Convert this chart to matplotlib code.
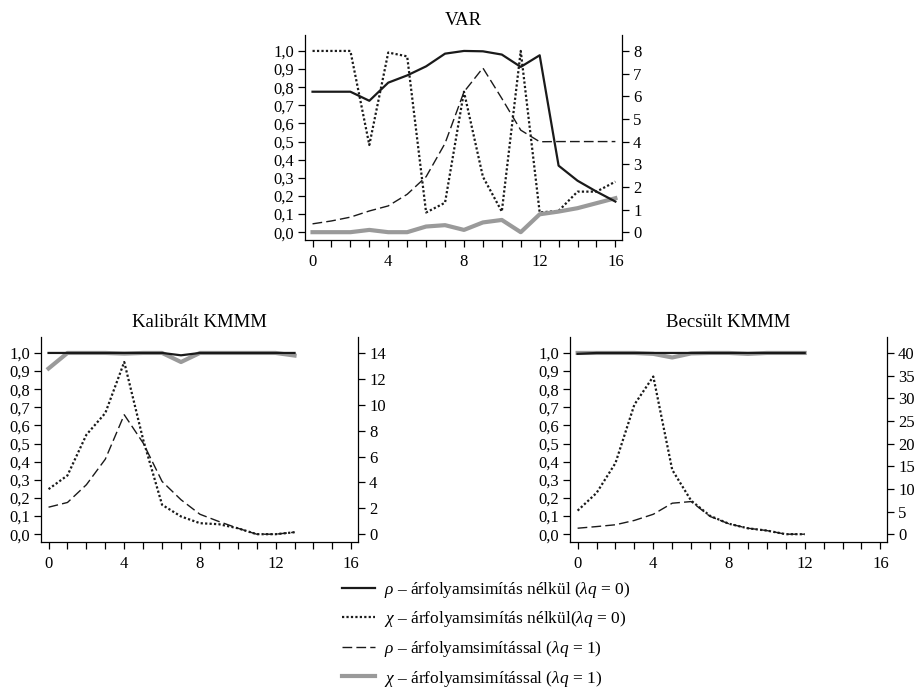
import matplotlib
matplotlib.use('Agg')
import matplotlib.pyplot as plt
from matplotlib.lines import Line2D
from matplotlib.ticker import FuncFormatter

plt.rcParams['font.family'] = ['Liberation Serif', 'DejaVu Serif']
plt.rcParams['mathtext.fontset'] = 'custom'
plt.rcParams['mathtext.rm'] = 'Liberation Serif'
plt.rcParams['mathtext.it'] = 'Liberation Serif:italic'

# VAR panel, x = 0..16
var_x = list(range(17))
var_rho = [0.775, 0.775, 0.775, 0.725, 0.825, 0.865, 0.915, 0.985, 1.0, 0.998,
           0.98, 0.912, 0.976, 0.367, 0.284, 0.224, 0.169]
var_chi = [8.0, 8.0, 8.0, 3.85, 7.93, 7.76, 0.87, 1.3, 6.2, 2.45,
           0.91, 8.0, 0.87, 0.94, 1.79, 1.79, 2.23]
var_rho_s = [0.046, 0.062, 0.083, 0.117, 0.145, 0.209, 0.306, 0.49, 0.774, 0.906,
             0.738, 0.563, 0.499, 0.5, 0.5, 0.5, 0.5]
var_chi_s = [0.0, 0.0, 0.0, 0.1, 0.0, 0.0, 0.25, 0.31, 0.1, 0.43,
             0.54, 0.0, 0.79, 0.91, 1.06, 1.28, 1.5]

# Kalibrált KMMM, x = 0..13
kal_x = list(range(14))
kal_rho = [1.0, 1.0, 1.0, 1.0, 1.0, 1.0, 1.0, 0.987, 1.0, 1.0, 1.0, 1.0, 1.0, 1.0]
kal_chi = [3.48, 4.54, 7.68, 9.36, 13.3, 7.3, 2.27, 1.37, 0.85, 0.77, 0.46, 0.0, 0.0, 0.15]
kal_rho_s = [0.149, 0.175, 0.273, 0.414, 0.659, 0.503, 0.291, 0.19, 0.11, 0.07,
             0.033, 0.0, 0.0, 0.011]
kal_chi_s = [12.8, 14.0, 14.0, 14.0, 13.95, 14.0, 14.0, 13.3, 14.0, 14.0, 14.0, 14.0, 14.0, 13.8]

# Becsült KMMM, x = 0..12
bec_x = list(range(13))
bec_rho = [0.995, 1.0, 1.0, 1.0, 1.0, 1.0, 1.0, 1.0, 1.0, 1.0, 1.0, 1.0, 1.0]
bec_chi = [5.2, 9.1, 15.7, 28.6, 34.8, 14.2, 7.4, 4.05, 2.3, 1.3, 0.8, 0.0, 0.0]
bec_rho_s = [0.033, 0.042, 0.052, 0.076, 0.11, 0.171, 0.18, 0.098, 0.057, 0.033,
             0.02, 0.0, 0.0]
bec_chi_s = [40.0, 40.0, 40.0, 40.0, 39.8, 39.0, 39.9, 40.0, 40.0, 39.8, 40.0, 40.0, 40.0]

labels = [r'$\rho$ – árfolyamsimítás nélkül ($\lambda q$ = 0)',
          r'$\chi$ – árfolyamsimítás nélkül($\lambda q$ = 0)',
          r'$\rho$ – árfolyamsimítással ($\lambda q$ = 1)',
          r'$\chi$ – árfolyamsimítással ($\lambda q$ = 1)']

BLACK = '#1a1a1a'
GRAY = '#9a9a9a'
solid_kw = dict(color=BLACK, lw=1.6, ls='-')
dot_kw = dict(color=BLACK, lw=1.6, ls=(0, (1, 1)))
dash_kw = dict(color=BLACK, lw=1.0, ls=(0, (7, 3)))
gray_kw = dict(color=GRAY, lw=3.0, ls='-')

fig = plt.figure(figsize=(9.23, 6.97), dpi=100)

comma = FuncFormatter(lambda v, p: ('%.1f' % v).replace('.', ','))
YLO, YHI = -0.043, 1.088


def panel(rect, title, x, rho, chi, rho_s, chi_s, rmax, rstep):
    ax = fig.add_axes(rect)
    ax2 = ax.twinx()
    ax.plot(x, rho_s, **dash_kw, zorder=2)
    ax2.plot(x, chi, **dot_kw, zorder=2)
    ax2.plot(x, chi_s, **gray_kw, zorder=3)
    ax.set_zorder(ax2.get_zorder() + 1)
    ax.patch.set_visible(False)
    ax.plot(x, rho, **solid_kw, zorder=4)

    ax.set_xlim(-0.4, 16.35)
    ax.set_ylim(YLO, YHI)
    ax2.set_ylim(YLO * rmax, YHI * rmax)
    ax.set_yticks([i / 10 for i in range(11)])
    ax.yaxis.set_major_formatter(comma)
    ax2.set_yticks(range(0, rmax + 1, rstep))
    ax.set_xticks(range(17))
    ax.set_xticklabels([str(i) if i % 4 == 0 else '' for i in range(17)])

    for a in (ax, ax2):
        a.spines['top'].set_visible(False)
        a.tick_params(direction='out', length=5, width=0.9, labelsize=12, pad=3)
        for s in a.spines.values():
            s.set_linewidth(0.9)
    ax.spines['right'].set_visible(False)
    ax2.spines['left'].set_visible(False)
    ax2.spines['bottom'].set_visible(False)
    ax.tick_params(axis='x', pad=5)
    ax.set_title(title, fontsize=13.5, pad=7)
    return ax


panel([0.3304, 0.6557, 0.3435, 0.2941], 'VAR',
      var_x, var_rho, var_chi, var_rho_s, var_chi_s, 8, 1)
panel([0.0444, 0.2224, 0.3434, 0.2941], 'Kalibrált KMMM',
      kal_x, kal_rho, kal_chi, kal_rho_s, kal_chi_s, 14, 2)
panel([0.6176, 0.2224, 0.3434, 0.2941], 'Becsült KMMM',
      bec_x, bec_rho, bec_chi, bec_rho_s, bec_chi_s, 40, 5)

handles = [Line2D([], [], **solid_kw), Line2D([], [], **dot_kw),
           Line2D([], [], **dash_kw), Line2D([], [], **gray_kw)]
fig.legend(handles, labels, loc='upper left', bbox_to_anchor=(0.3635, 0.178),
           frameon=False, fontsize=12.5, handlelength=1.9, handletextpad=0.5,
           labelspacing=0.55, borderaxespad=0)

fig.savefig('out.png', dpi=100)
